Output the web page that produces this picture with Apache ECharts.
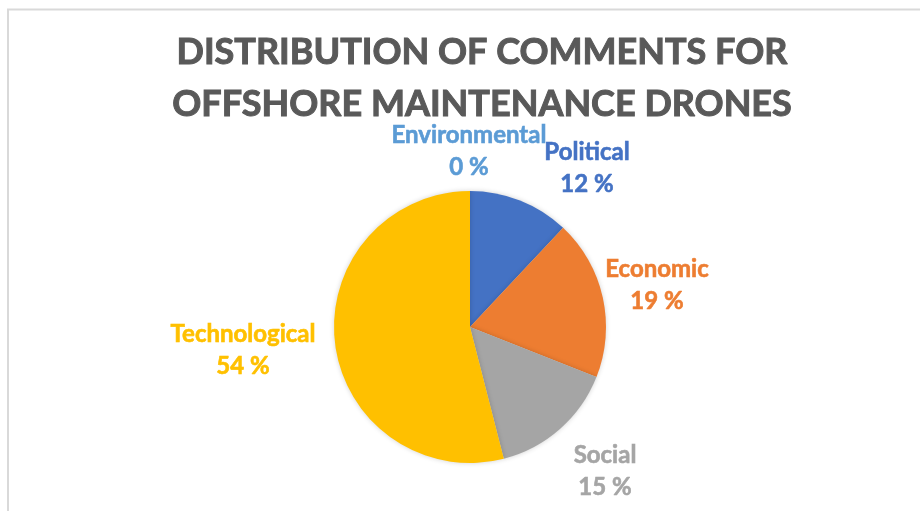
<!DOCTYPE html>
<html>
<head>
<meta charset="utf-8">
<script src="https://cdn.jsdelivr.net/npm/echarts@6/dist/echarts.min.js"></script>
<style>
  html, body { margin: 0; padding: 0; background: #ffffff; }
  #chart { width: 920px; height: 511px; }
</style>
</head>
<body>
<div id="chart"></div>
<script>
// Comment categories, in clockwise order from 12 o'clock
const categories = ['Political', 'Economic', 'Social', 'Technological', 'Environmental'];
// Share of comments per category, in percent
const shares = [12, 19, 15, 54, 0];
// Slice / label colours per category
const colors = ['#4472C4', '#ED7D31', '#A5A5A5', '#FFC000', '#5B9BD5'];

// Where each category's two-line label sits (label centre, in pixels)
const labelCentres = {
  Political: [587, 168],
  Economic: [657, 285],
  Social: [605, 471],
  Technological: [243, 350],
  Environmental: [469, 151]
};

const chart = echarts.init(document.getElementById('chart'), null, { renderer: 'canvas' });

const fontFamily = 'Lato, "Open Sans", "Noto Sans", sans-serif';

chart.setOption({
  backgroundColor: '#ffffff',
  animation: false,
  title: {
    text: 'DISTRIBUTION OF COMMENTS FOR\nOFFSHORE MAINTENANCE DRONES',
    left: 477,
    top: 21,
    textAlign: 'center',
    textStyle: {
      color: '#595959',
      fontFamily: fontFamily,
      fontWeight: 'bold',
      fontSize: 36,
      lineHeight: 52,
      textBorderColor: '#595959',
      textBorderWidth: 1
    }
  },
  graphic: [{
    type: 'rect',
    shape: { x: 8, y: 9.5, width: 940, height: 540 },
    style: { fill: 'none', stroke: '#d9d9d9', lineWidth: 2 },
    silent: true
  }],
  series: [{
    type: 'pie',
    center: [470, 327],
    radius: 136,
    startAngle: 90,
    clockwise: true,
    avoidLabelOverlap: false,
    data: categories.map((name, i) => ({
      name: name,
      value: shares[i],
      itemStyle: { color: colors[i] },
      label: { color: colors[i], textBorderColor: colors[i] }
    })),
    itemStyle: {
      borderWidth: 0,
      shadowBlur: 5,
      shadowColor: 'rgba(0,0,0,0.18)'
    },
    label: {
      show: true,
      position: 'outside',
      formatter: '{b}\n{c} %',
      fontFamily: fontFamily,
      fontWeight: 'bold',
      fontSize: 24,
      lineHeight: 32,
      textBorderWidth: 0.6,
      align: 'center'
    },
    labelLine: { show: false },
    labelLayout: function (params) {
      const name = categories[params.dataIndex];
      const c = labelCentres[name];
      return {
        x: c[0],
        y: c[1],
        align: 'center',
        verticalAlign: 'middle'
      };
    },
    emphasis: { disabled: true }
  }]
});
</script>
</body>
</html>
